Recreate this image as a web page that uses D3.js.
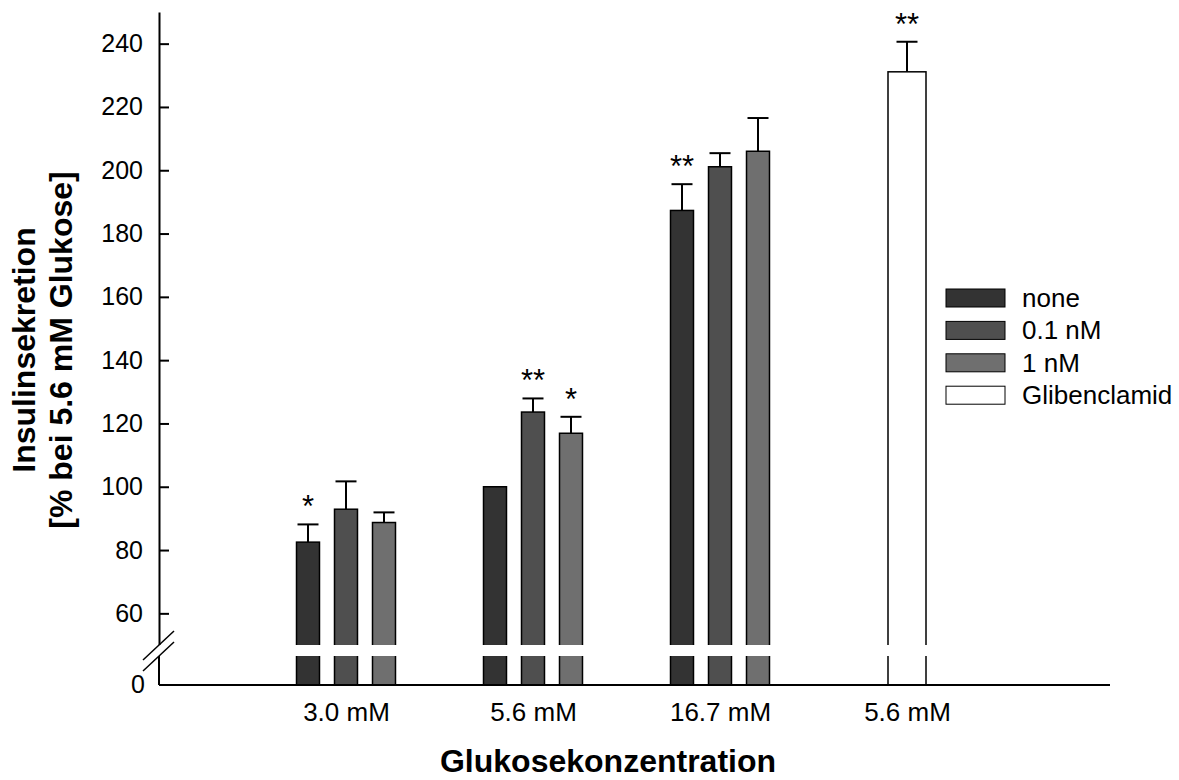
<!DOCTYPE html>
<html>
<head>
<meta charset="utf-8">
<title>Insulinsekretion</title>
<style>
    html, body {
        margin: 0px;
        padding: 0px;
        background-color: #fff;
    }
    svg {
        display: block;
        font-family: "Liberation Sans", Arial, Helvetica, sans-serif;
    }
    .axis text {
        font-size: 25px;
        fill: #000;
    }
    .xaxis text {
        font-size: 26px;
    }
    .axis path, .axis line {
        stroke: #000;
        stroke-width: 2px;
    }
    .title {
        font-size: 32px;
        font-weight: bold;
    }
    .legend text {
        font-size: 26px;
    }
    .star {
        font-size: 31px;
        text-anchor: middle;
    }
</style>
<script src="https://cdn.jsdelivr.net/npm/d3@7"></script>
</head>
<body>
<div id="main"></div>
<script>
    var groups = ["3.0 mM", "5.6 mM", "16.7 mM", "5.6 mM"];
    var series = ["none", "0.1 nM", "1 nM", "Glibenclamid"];
    var seriesColors = ["#333333", "#4f4f4f", "#6f6f6f", "#ffffff"];

    // means per group, null = not measured
    var noneValues = [82.5, 100, 187.3, null];
    var lowValues = [92.9, 123.6, 201.1, null];
    var highValues = [88.7, 116.9, 206, null];
    var glibValues = [null, null, null, 231.1];

    // SEM per group
    var noneErrors = [5.6, null, 8.3, null];
    var lowErrors = [8.8, 4.3, 4.3, null];
    var highErrors = [3.2, 5.2, 10.5, null];
    var glibErrors = [null, null, null, 9.5];

    // significance marks
    var noneStars = ["*", "", "**", ""];
    var lowStars = ["", "**", "", ""];
    var highStars = ["", "*", "", ""];
    var glibStars = ["", "", "", "**"];

    var yTicks = [60, 80, 100, 120, 140, 160, 180, 200, 220, 240];

    var width = 1179;
    var height = 780;
    var plotLeft = 159;
    var plotRight = 1110;
    var plotTop = 12;
    var plotBottom = 685;
    var breakTop = 645;
    var breakGap = 11;

    var values = [noneValues, lowValues, highValues, glibValues];
    var errors = [noneErrors, lowErrors, highErrors, glibErrors];
    var stars = [noneStars, lowStars, highStars, glibStars];

    var data = [];
    groups.forEach(function(g, gi) {
        series.forEach(function(s, si) {
            if (values[si][gi] != null) {
                data.push({ group: gi, series: si, value: values[si][gi],
                            err: errors[si][gi], star: stars[si][gi] });
            }
        });
    });

    var svg = d3.select("#main")
                .append("svg")
                .attr("width", width)
                .attr("height", height);

    var x = d3.scalePoint()
              .domain(d3.range(groups.length))
              .range([plotLeft, 1094])
              .padding(1);

    var inner = d3.scaleBand()
                  .domain([0, 1, 2])
                  .range([-57, 57])
                  .paddingInner(0.395)
                  .paddingOuter(0.1975);

    var y = d3.scaleLinear()
              .domain([50, 250])
              .range([breakTop, plotTop]);

    function barX(d) {
        if (d.series == 3) return x(d.group) - 19;
        return x(d.group) + inner(d.series);
    }
    function barW(d) {
        return d.series == 3 ? 38 : inner.bandwidth();
    }
    function barMid(d) {
        return barX(d) + barW(d) / 2;
    }

    // bars
    svg.append("g")
        .selectAll("rect")
        .data(data)
        .enter()
        .append("rect")
        .attr("x", barX)
        .attr("y", function(d) { return y(d.value); })
        .attr("width", barW)
        .attr("height", function(d) { return plotBottom - y(d.value); })
        .attr("fill", function(d) { return seriesColors[d.series]; })
        .attr("stroke", "#000")
        .attr("stroke-width", 1.5);

    // error bars
    var eb = svg.append("g")
        .selectAll("g")
        .data(data.filter(function(d) { return d.err != null; }))
        .enter()
        .append("g")
        .attr("stroke", "#000")
        .attr("stroke-width", 2);
    eb.append("line")
        .attr("x1", barMid).attr("x2", barMid)
        .attr("y1", function(d) { return y(d.value); })
        .attr("y2", function(d) { return y(d.value + d.err); });
    eb.append("line")
        .attr("x1", function(d) { return barMid(d) - 10.5; })
        .attr("x2", function(d) { return barMid(d) + 10.5; })
        .attr("y1", function(d) { return y(d.value + d.err); })
        .attr("y2", function(d) { return y(d.value + d.err); });

    // stars
    svg.append("g")
        .selectAll("text")
        .data(data.filter(function(d) { return d.star != ""; }))
        .enter()
        .append("text")
        .attr("class", "star")
        .attr("x", barMid)
        .attr("y", function(d) { return y(d.value + (d.err || 0)) - 7; })
        .text(function(d) { return d.star; });

    // y axis
    var yAxis = svg.append("g")
        .attr("class", "axis")
        .attr("transform", "translate(" + plotLeft + ",0)")
        .call(d3.axisLeft(y).tickValues(yTicks).tickSize(-10).tickSizeOuter(0).tickPadding(16));
    yAxis.attr("font-size", null).attr("font-family", null);
    yAxis.append("line")
        .attr("x1", 0).attr("x2", 0)
        .attr("y1", breakTop).attr("y2", plotBottom);
    yAxis.append("text")
        .attr("x", -14)
        .attr("y", plotBottom)
        .attr("dy", "0.32em")
        .attr("text-anchor", "end")
        .text("0");

    // x axis
    var xAxis = svg.append("g")
        .attr("class", "axis xaxis")
        .attr("transform", "translate(0," + plotBottom + ")")
        .call(d3.axisBottom(x).tickSize(0).tickSizeOuter(0).tickPadding(18)
              .tickFormat(function(i) { return groups[i]; }));
    xAxis.attr("font-size", null).attr("font-family", null);
    xAxis.select(".domain").attr("d", "M" + plotLeft + ",0H" + plotRight);

    // axis break
    svg.append("rect")
        .attr("x", plotLeft - 3)
        .attr("y", breakTop)
        .attr("width", plotRight - plotLeft)
        .attr("height", breakGap)
        .attr("fill", "#fff");
    [0, breakGap].forEach(function(o) {
        svg.append("line")
            .attr("x1", plotLeft - 16).attr("y1", breakTop + o + 15)
            .attr("x2", plotLeft + 15).attr("y2", breakTop + o - 14)
            .attr("stroke", "#000")
            .attr("stroke-width", 1.5);
    });

    // legend
    var legend = svg.append("g")
        .attr("class", "legend")
        .attr("transform", "translate(946,289)");
    var li = legend.selectAll("g")
        .data(series)
        .enter()
        .append("g")
        .attr("transform", function(d, i) { return "translate(0," + (i * 32.4) + ")"; });
    li.append("rect")
        .attr("width", 59)
        .attr("height", 18)
        .attr("fill", function(d, i) { return seriesColors[i]; })
        .attr("stroke", "#000")
        .attr("stroke-width", 1);
    li.append("text")
        .attr("x", 76)
        .attr("y", 18)
        .text(function(d) { return d; });

    // titles
    svg.append("text")
        .attr("class", "title")
        .attr("x", 608)
        .attr("y", 772)
        .attr("text-anchor", "middle")
        .text("Glukosekonzentration");

    var yt = svg.append("text")
        .attr("class", "title")
        .attr("transform", "translate(35,350) rotate(-90)")
        .attr("text-anchor", "middle");
    yt.append("tspan").attr("x", 0).attr("y", 0).text("Insulinsekretion");
    yt.append("tspan").attr("x", 0).attr("y", 37).text("[% bei 5.6 mM Glukose]");
</script>
</body>
</html>
